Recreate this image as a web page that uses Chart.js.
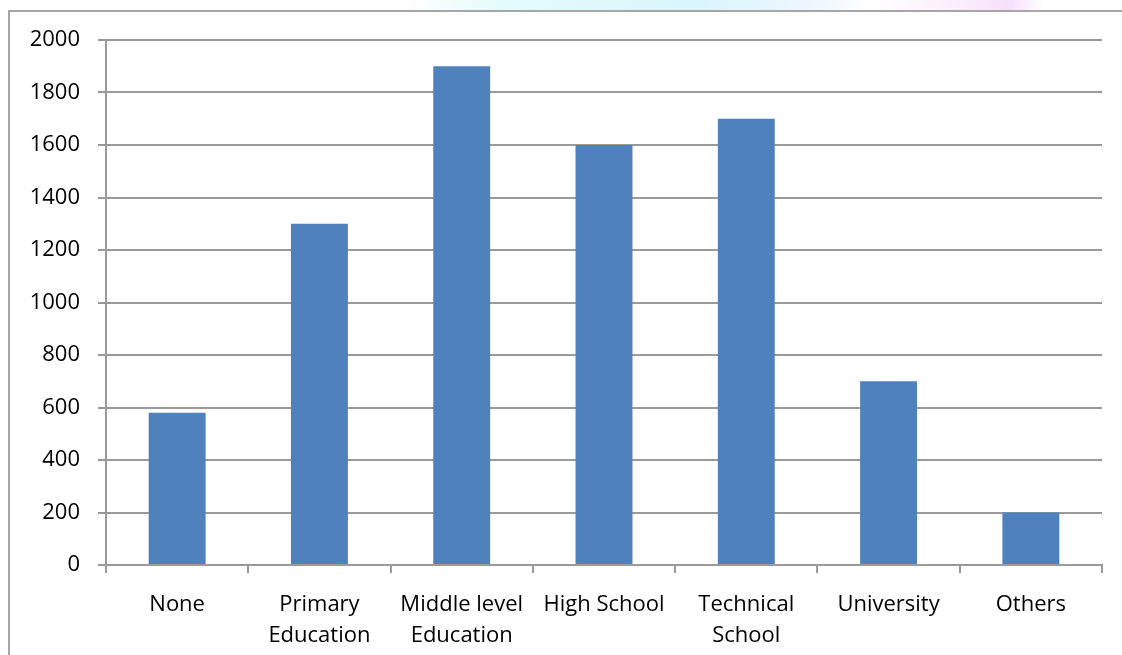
<!DOCTYPE html>
<html>
<head>
<meta charset="utf-8">
<script src="https://cdn.jsdelivr.net/npm/chart.js@4/dist/chart.umd.min.js"></script>
<style>
  html, body { margin: 0; padding: 0; background: #fff; }
  #wrap { position: relative; width: 1122px; height: 655px; overflow: hidden; }
  #wash {
    position: absolute; left: 0; top: 0; width: 1122px; height: 10px;
    background: linear-gradient(90deg, #ffffff 0%, #ffffff 36%, #e4fbfb 45%, #d8f6fb 62%, #eef6ff 72%, #ffffff 78%, #fbeffc 85%, #f6e0fb 90%, #ffffff 93%);
  }
  #frame {
    position: absolute; left: 8px; top: 10px; width: 1120px; height: 650px;
    border-top: 2px solid #a6a6a6; border-left: 2px solid #a6a6a6;
  }
  canvas { position: absolute; left: 0; top: 0; }
</style>
</head>
<body>
<div id="wrap">
  <div id="wash"></div>
  <div id="frame"></div>
  <canvas id="chart" width="1122" height="655"></canvas>
</div>
<script>
// niveles de educación
const categorias = [
    'None',
    ['Primary', 'Education'],
    ['Middle level', 'Education'],
    'High School',
    ['Technical', 'School'],
    'University',
    'Others'
];
const valores = [580, 1300, 1900, 1600, 1700, 700, 200];
const yMin = 0;
const yMax = 2000;
const yPaso = 200;

const gris = '#9a9a9a';
const fuente = { family: "'Open Sans', 'Liberation Sans', sans-serif", size: 22, lineHeight: 1.42 };

new Chart(document.getElementById('chart'), {
    type: 'bar',
    data: {
        labels: categorias,
        datasets: [{
            data: valores,
            backgroundColor: '#4f81bd',
            borderWidth: 0,
            barPercentage: 0.4,
            categoryPercentage: 1.0
        }]
    },
    options: {
        responsive: false,
        animation: false,
        layout: { padding: { left: 0, right: 20, top: 40, bottom: 0 } },
        plugins: {
            legend: { display: false },
            tooltip: { enabled: false }
        },
        scales: {
            x: {
                grid: {
                    offset: true,
                    drawOnChartArea: false,
                    drawTicks: true,
                    tickLength: 8,
                    color: gris,
                    lineWidth: 2
                },
                border: { display: true, color: gris, width: 2 },
                ticks: {
                    color: '#000',
                    font: fuente,
                    padding: 16,
                    maxRotation: 0,
                    autoSkip: false
                },
                afterFit: (scale) => { scale.height = 90; }
            },
            y: {
                min: yMin,
                max: yMax,
                grid: {
                    color: gris,
                    lineWidth: 2,
                    tickLength: 8
                },
                border: { display: true, color: gris, width: 2 },
                ticks: {
                    stepSize: yPaso,
                    color: '#000',
                    font: fuente,
                    padding: 18,
                    callback: (v) => String(v)
                },
                afterFit: (scale) => { scale.width = 106; }
            }
        }
    }
});
</script>
</body>
</html>
